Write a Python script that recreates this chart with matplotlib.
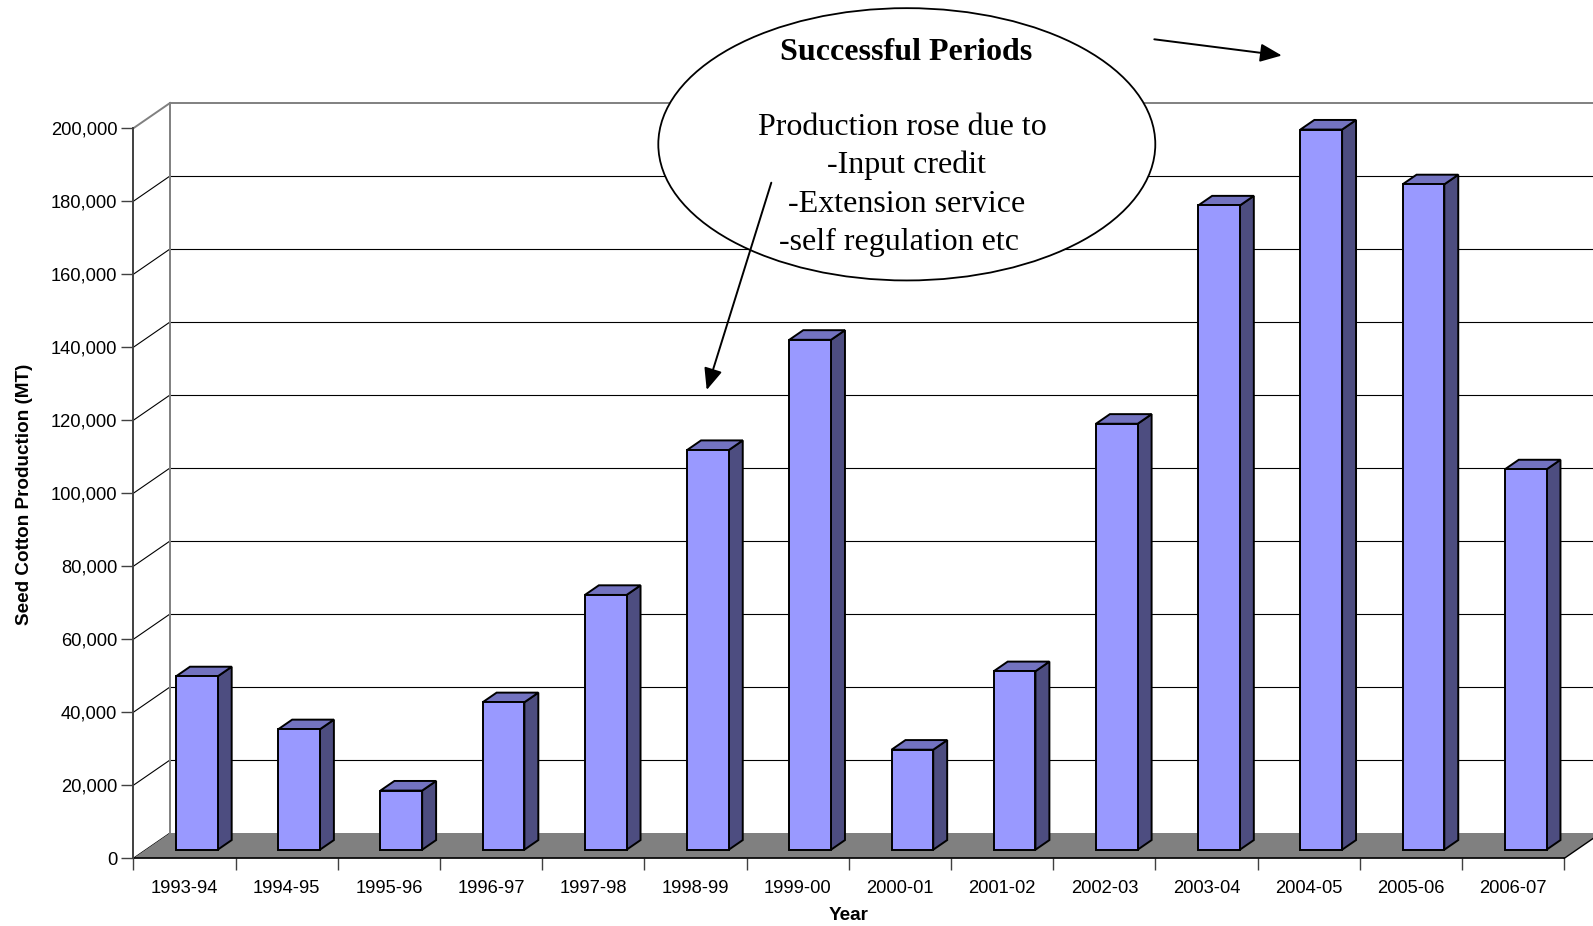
import matplotlib
matplotlib.use('Agg')
import matplotlib.pyplot as plt
from matplotlib.patches import Polygon, Ellipse, FancyArrowPatch
import numpy as np

# ---------------- data ----------------
years = ['1993-94', '1994-95', '1995-96', '1996-97', '1997-98', '1998-99', '1999-00',
         '2000-01', '2001-02', '2002-03', '2003-04', '2004-05', '2005-06', '2006-07']
production = [47500, 33000, 16200, 40400, 69800, 109500, 139700,
              27400, 48900, 116700, 176500, 197300, 182300, 104200]
y_ticks = list(range(0, 200001, 20000))
y_tick_labels = [f'{v:,}' for v in y_ticks]
ellipse_title = 'Successful Periods'
ellipse_lines = ['Production rose due to', '-Input credit', '-Extension service', '-self regulation etc']

# ---------------- style ----------------
plt.rcParams['font.family'] = ['Liberation Sans', 'DejaVu Sans']
W, H = 1593, 926
FRONT_C = '#9999FF'
SIDE_C = '#4D4D80'
TOP_C = '#7373C0'
FLOOR_C = '#808080'
WALL_EDGE = '#808080'

fig = plt.figure(figsize=(W / 100, H / 100), dpi=100)
ax = fig.add_axes([133.3 / W, 1 - 858.3 / H, 1431 / W, 730 / H])
n = len(years)
ax.set_xlim(-0.5, n - 0.5)
ax.set_ylim(0, 200000)

# 3-D oblique depth (in data units)
DX = 0.359      # categories
DY = 6930       # value units
FRONT = 0.34    # fraction of depth where bar front face sits
BDEPTH = 0.38   # bar depth as fraction of depth
BW = 0.408      # bar width in categories

x0, x1 = -0.5, n - 0.5

# side wall & back wall gridlines
for v in y_ticks:
    col = WALL_EDGE if v == y_ticks[-1] else 'black'
    lw = 1.4 if v == y_ticks[-1] else 0.8
    ax.plot([x0, x0 + DX], [v, v + DY], color=col, lw=lw, clip_on=False, zorder=1)
    if v > 0:
        ax.plot([x0 + DX, x1 + DX + 1], [v + DY, v + DY], color=col, lw=lw,
                clip_on=False, zorder=1)
ax.plot([x0 + DX, x0 + DX], [DY, y_ticks[-1] + DY], color=WALL_EDGE, lw=1.4,
        clip_on=False, zorder=1)

# floor
floor = Polygon([(x0, 0), (x1, 0), (x1 + DX, DY), (x0 + DX, DY)], closed=True,
                facecolor=FLOOR_C, edgecolor='none', clip_on=False, zorder=1.5)
ax.add_patch(floor)
ax.plot([x1, x1 + DX], [0, DY], color='black', lw=1.0, clip_on=False, zorder=1.6)

# bars
fx, fy = FRONT * DX, FRONT * DY
bdx, bdy = BDEPTH * DX, BDEPTH * DY
for i, v in enumerate(production):
    l = i - BW / 2 + fx
    r = i + BW / 2 + fx
    b = fy
    t = fy + v
    side = Polygon([(r, b), (r + bdx, b + bdy), (r + bdx, t + bdy), (r, t)], closed=True,
                   facecolor=SIDE_C, edgecolor='black', lw=1.4, joinstyle='miter',
                   zorder=3, clip_on=False)
    top = Polygon([(l, t), (r, t), (r + bdx, t + bdy), (l + bdx, t + bdy)], closed=True,
                  facecolor=TOP_C, edgecolor='black', lw=1.4, joinstyle='miter',
                  zorder=3, clip_on=False)
    front = Polygon([(l, b), (r, b), (r, t), (l, t)], closed=True,
                    facecolor=FRONT_C, edgecolor='black', lw=1.4, joinstyle='miter',
                    zorder=3.1, clip_on=False)
    ax.add_patch(side)
    ax.add_patch(top)
    ax.add_patch(front)

# spines
for s in ['top', 'right']:
    ax.spines[s].set_visible(False)
ax.spines['left'].set_color('#404040')
ax.spines['left'].set_linewidth(1.4)
ax.spines['bottom'].set_color('black')
ax.spines['bottom'].set_linewidth(1.2)
ax.spines['bottom'].set_zorder(2)
ax.patch.set_visible(False)

# ticks
ax.set_yticks(y_ticks)
ax.set_yticklabels(y_tick_labels)
ax.tick_params(axis='y', length=8.4, width=1.0, color='#404040', direction='out',
               pad=3.2, labelsize=13.2)
ax.set_xticks(range(n))
ax.set_xticklabels(years)
ax.set_xticks(np.arange(n + 1) - 0.5, minor=True)
ax.tick_params(axis='x', which='major', length=0, pad=15.5, labelsize=13.2)
ax.tick_params(axis='x', which='minor', length=8.6, width=1.0, color='#404040',
               direction='out')


def fp(x, y):
    return (x / W, 1 - y / H)


# axis titles
fig.text(*fp(24.4, 494), 'Seed Cotton Production (MT)', rotation=90, ha='center',
         va='center', fontsize=13.6, fontweight='bold')
fig.text(*fp(848.8, 915.4), 'Year', ha='center', va='center', fontsize=13.6,
         fontweight='bold')

# annotation ellipse
ell = Ellipse(fp(906.8, 144.3), 497 / W, 272.3 / H, transform=fig.transFigure,
              facecolor='white', edgecolor='black', lw=1.3, zorder=5)
fig.add_artist(ell)
serif = ['Liberation Serif', 'DejaVu Serif']
fig.text(*fp(906.3, 60), ellipse_title, ha='center', va='baseline', fontsize=23,
         fontweight='bold', family=serif, zorder=6)
for (xc, yb), line in zip([(902.8, 135), (906.6, 173.5), (906.2, 211.8), (898.8, 250)],
                          ellipse_lines):
    fig.text(*fp(xc, yb), line, ha='center', va='baseline', fontsize=23,
             family=serif, zorder=6)

# arrows
for start, end in [((771.3, 182.7), (706.7, 390.0)), ((1154.3, 39.3), (1281.8, 55.5))]:
    arr = FancyArrowPatch(fp(*start), fp(*end), transform=fig.transFigure,
                          arrowstyle='-|>,head_length=0.66,head_width=0.28',
                          mutation_scale=20, lw=1.4, color='black',
                          shrinkA=0, shrinkB=0, zorder=7)
    fig.add_artist(arr)

fig.savefig('out.png', dpi=100)
